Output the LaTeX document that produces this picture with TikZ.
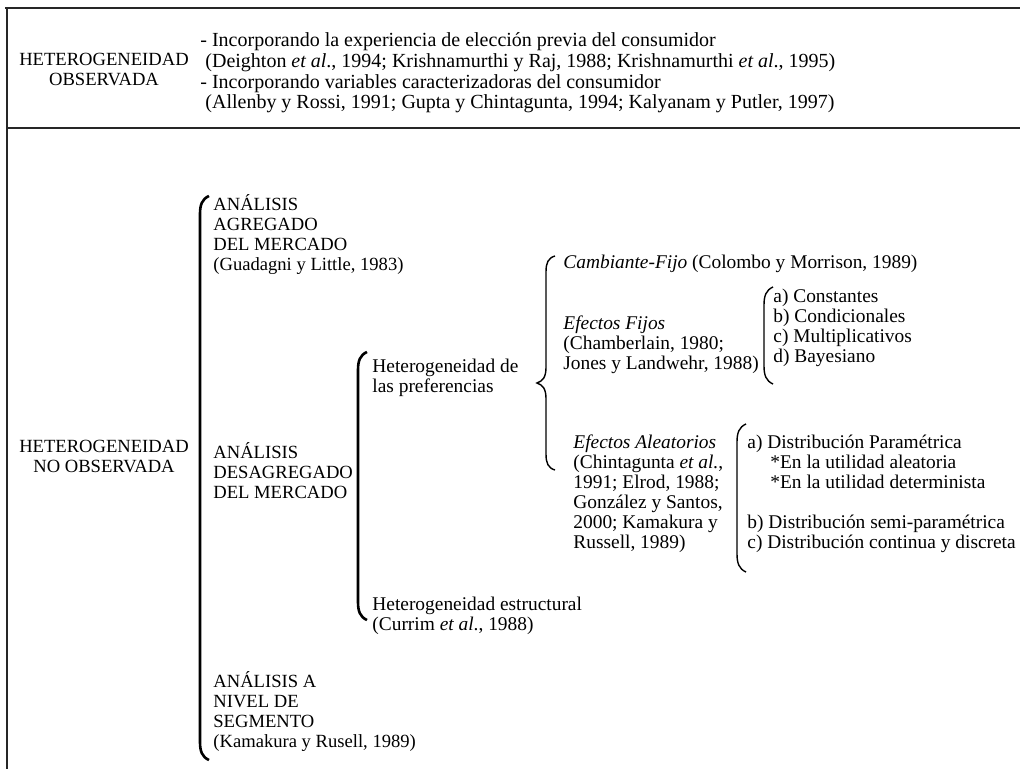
\documentclass[tikz,border=0pt]{standalone}
\usepackage{fontspec}
\setmainfont{Liberation Serif}
\usetikzlibrary{arrows}

% rounded bracket: x, top y, bottom y
\newcommand{\rbrk}[4][]{%
  \draw[#1] (#2+9,#3) .. controls (#2+2,#3+3) and (#2,#3+9) .. (#2,#3+18)
     -- (#2,#4-18) .. controls (#2,#4-9) and (#2+2,#4-3) .. (#2+9,#4);}

\begin{document}
\begin{tikzpicture}[x=0.5pt,y=-0.5pt,
  txt/.style={anchor=west,align=left,inner sep=0pt,
              font=\fontsize{9.7}{10}\selectfont},
  captxt/.style={txt,font=\fontsize{9.3}{10}\selectfont},
  toptxt/.style={txt,font=\fontsize{10}{10.3}\selectfont},
  ctxt/.style={align=center,inner sep=0pt,font=\fontsize{9.3}{10}\selectfont},
  frame/.style={line width=1pt,black!85},
  bigbrk/.style={line width=1.3pt},
  smallbrk/.style={line width=0.7pt}]
 \useasboundingbox (0,0) rectangle (1020,769);
 % frame
 \draw[frame] (5,8) -- (1020,8);
 \draw[frame] (7,8) -- (7,769);
 \draw[frame] (7,128) -- (1020,128);
 % observed heterogeneity
 \node[ctxt] (obs) at (104,69) {HETEROGENEIDAD\\OBSERVADA};
 \node[toptxt] (obslist) at (200,73)
   {- Incorporando la experiencia de elección previa  del consumidor\\
    \hspace*{2.5pt}(Deighton \textit{et al}., 1994; Krishnamurthi y Raj, 1988; Krishnamurthi \textit{et al}., 1995)\\
    - Incorporando variables caracterizadoras del consumidor\\
    \hspace*{2.5pt}(Allenby y Rossi, 1991; Gupta y Chintagunta, 1994; Kalyanam y Putler, 1997)};
 % unobserved heterogeneity
 \node[ctxt] (noobs) at (104,456) {HETEROGENEIDAD\\NO OBSERVADA};
 \rbrk[bigbrk]{200}{196}{760}
 \node[captxt] (agreg) at (213,235)
   {ANÁLISIS\\AGREGADO\\DEL MERCADO\\(Guadagni y Little, 1983)};
 \node[captxt] (desagreg) at (213,471)
   {ANÁLISIS\\DESAGREGADO\\DEL MERCADO};
 \node[captxt] (segm) at (213,712)
   {ANÁLISIS A\\NIVEL DE\\SEGMENTO\\(Kamakura y Rusell, 1989)};
 % disaggregated
 \rbrk[bigbrk]{358}{352}{620}
 \node[txt] (pref) at (372,378) {Heterogeneidad de\\las preferencias};
 \node[txt] (estr) at (372,616)
   {Heterogeneidad estructural\\(Currim \textit{et al}., 1988)};
 % preferences
 \draw[smallbrk] (555,256) .. controls (548,258) and (546,263) .. (546,272)
    -- (546,367) .. controls (546,377) and (543,381) .. (537,383)
    .. controls (543,385) and (546,389) .. (546,399)
    -- (546,454) .. controls (546,463) and (548,468) .. (555,470);
 \node[txt] (camb) at (563,264)
   {\textit{Cambiante-Fijo} (Colombo y Morrison, 1989)};
 \node[txt] (fijos) at (563,345)
   {\textit{Efectos Fijos}\\(Chamberlain, 1980;\\Jones y Landwehr, 1988)};
 \node[txt] (aleat) at (573,494)
   {\textit{Efectos Aleatorios}\\(Chintagunta \textit{et al.},\\1991; Elrod, 1988;\\González y Santos,\\2000; Kamakura y\\Russell, 1989)};
 % fixed effects
 \rbrk[smallbrk]{764}{287}{384}
 \node[txt] (fijoslist) at (773,328)
   {a) Constantes\\b) Condicionales\\c) Multiplicativos\\d) Bayesiano};
 % random effects
 \rbrk[smallbrk]{737}{424}{572}
 \node[txt] (aleatlist) at (747,494)
   {a) Distribución Paramétrica\\
    \hspace*{11.5pt}*En la utilidad aleatoria\\
    \hspace*{11.5pt}*En la utilidad determinista\\[10pt]
    b) Distribución semi-paramétrica\\
    c) Distribución continua y discreta};
\end{tikzpicture}
\end{document}
